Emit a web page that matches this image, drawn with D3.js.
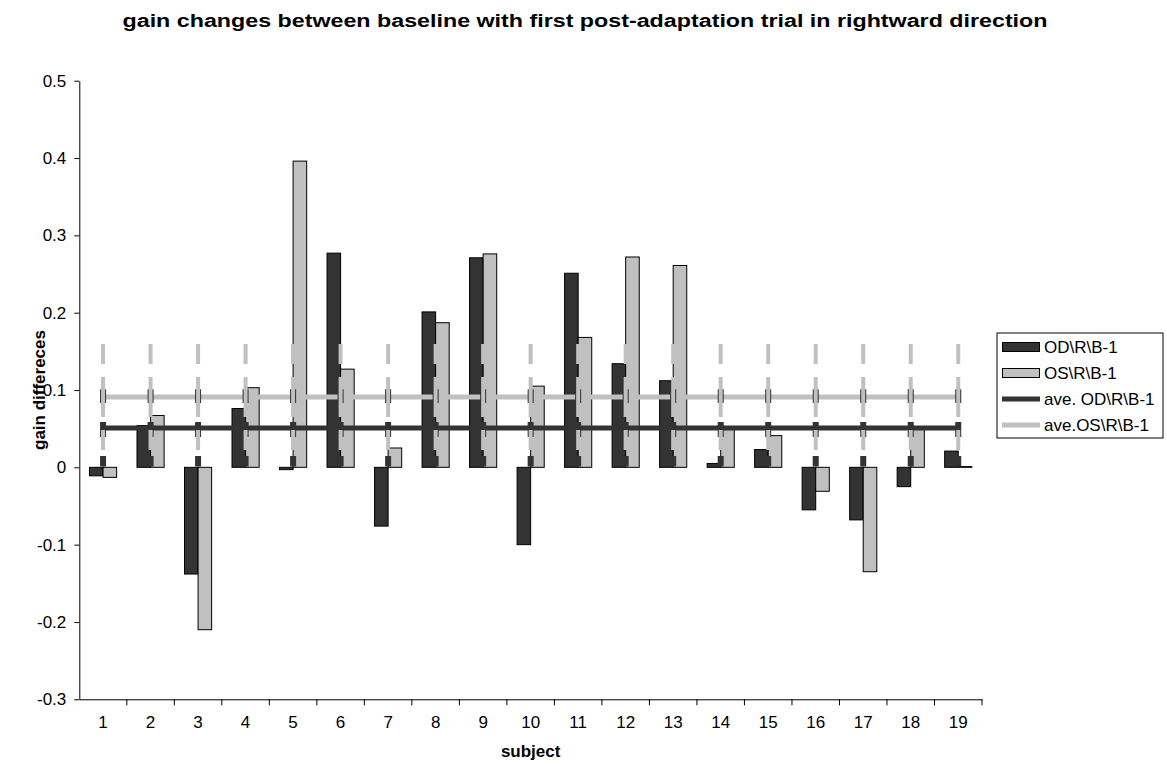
<!DOCTYPE html>
<html>
<head>
<meta charset="utf-8">
<script src="https://cdn.jsdelivr.net/npm/d3@7"></script>
<style>
  html, body { margin: 0; padding: 0; background: #fff; }
  svg { display: block; font-family: Arial, "Liberation Sans", sans-serif; }
</style>
</head>
<body>
<svg id="chart" width="1167" height="765"></svg>
<script>
// ---- data ----
const categories = ["1","2","3","4","5","6","7","8","9","10","11","12","13","14","15","16","17","18","19"];
const seriesNames = ["OD\\R\\B-1", "OS\\R\\B-1"];
const aveNames = ["ave. OD\\R\\B-1", "ave.OS\\R\\B-1"];
const odValues = [-0.011, 0.054, -0.138, 0.076, -0.003, 0.277, -0.076, 0.201, 0.271, -0.100, 0.251, 0.134, 0.112, 0.005, 0.023, -0.055, -0.068, -0.025, 0.021];
const osValues = [-0.013, 0.067, -0.210, 0.103, 0.396, 0.127, 0.025, 0.187, 0.276, 0.105, 0.168, 0.272, 0.261, 0.050, 0.041, -0.031, -0.135, 0.050, 0.001];
const aveOD = [0.051, 0.051, 0.051, 0.051, 0.051, 0.051, 0.051, 0.051, 0.051, 0.051, 0.051, 0.051, 0.051, 0.051, 0.051, 0.051, 0.051, 0.051, 0.051];
const aveOS = [0.091, 0.091, 0.091, 0.091, 0.091, 0.091, 0.091, 0.091, 0.091, 0.091, 0.091, 0.091, 0.091, 0.091, 0.091, 0.091, 0.091, 0.091, 0.091];
const errOD = [0.050, 0.050, 0.050, 0.050, 0.050, 0.050, 0.050, 0.050, 0.050, 0.050, 0.050, 0.050, 0.050, 0.050, 0.050, 0.050, 0.050, 0.050, 0.050];
const errOS = [0.069, 0.069, 0.069, 0.069, 0.069, 0.069, 0.069, 0.069, 0.069, 0.069, 0.069, 0.069, 0.069, 0.069, 0.069, 0.069, 0.069, 0.069, 0.069];
const yTicks = [-0.3, -0.2, -0.1, 0, 0.1, 0.2, 0.3, 0.4, 0.5];
const yTickLabels = ["-0.3", "-0.2", "-0.1", "0", "0.1", "0.2", "0.3", "0.4", "0.5"];
const titleText = "gain changes between baseline with first post-adaptation trial in rightward direction";
const xTitle = "subject";
const yTitle = "gain differeces";

// ---- layout ----
const DARK = "#333333", LIGHT = "#c0c0c0";
const plot = { left: 79.3, right: 982, top: 80.7, bottom: 699.3 };
const svg = d3.select("#chart");

const x = d3.scaleBand().domain(categories).range([plot.left, plot.right]).padding(0);
const barW = x.bandwidth() / 3.5;
const xs = d3.scaleBand().domain([0, 1])
  .range([(x.bandwidth() - 2 * barW) / 2, (x.bandwidth() + 2 * barW) / 2]).padding(0);
const y = d3.scaleLinear().domain([-0.3, 0.5]).range([plot.bottom, plot.top]);

// title
svg.append("text")
  .attr("x", 585).attr("y", 27)
  .attr("text-anchor", "middle")
  .attr("font-size", 18).attr("font-weight", "bold")
  .attr("textLength", 925).attr("lengthAdjust", "spacingAndGlyphs")
  .text(titleText);

// bars
const barData = [];
categories.forEach((c, i) => {
  barData.push({ c, s: 0, v: odValues[i] });
  barData.push({ c, s: 1, v: osValues[i] });
});
svg.append("g").selectAll("rect").data(barData).join("rect")
  .attr("x", d => x(d.c) + xs(d.s))
  .attr("width", xs.bandwidth())
  .attr("y", d => Math.min(y(d.v), y(0)))
  .attr("height", d => Math.abs(y(d.v) - y(0)))
  .attr("fill", d => d.s === 0 ? DARK : LIGHT)
  .attr("stroke", "#000").attr("stroke-width", 1);

// average lines
const cx = c => x(c) + x.bandwidth() / 2;
const line = d3.line().x(d => cx(d.c)).y(d => y(d.v));
svg.append("path")
  .datum(categories.map((c, i) => ({ c, v: aveOD[i] })))
  .attr("d", line).attr("fill", "none").attr("stroke", DARK).attr("stroke-width", 5);
svg.append("path")
  .datum(categories.map((c, i) => ({ c, v: aveOS[i] })))
  .attr("d", line).attr("fill", "none").attr("stroke", LIGHT).attr("stroke-width", 5);

// error bars (dark)
const eg = svg.append("g");
categories.forEach((c, i) => {
  const xc = cx(c);
  eg.append("line")
    .attr("x1", xc).attr("x2", xc)
    .attr("y1", y(aveOD[i] + errOD[i])).attr("y2", y(aveOD[i] - errOD[i]))
    .attr("stroke", DARK).attr("stroke-width", 6)
    .attr("stroke-dasharray", "15,19").attr("stroke-dashoffset", 1.2);
});
// error bars (light), drawn from the mean outward
categories.forEach((c, i) => {
  const xc = cx(c);
  [1, -1].forEach(dir => {
    eg.append("line")
      .attr("x1", xc).attr("x2", xc)
      .attr("y1", y(aveOS[i])).attr("y2", y(aveOS[i] + dir * errOS[i]))
      .attr("stroke", LIGHT).attr("stroke-width", 4)
      .attr("stroke-dasharray", "20,13");
  });
});

// y axis
const yAxis = d3.axisLeft(y).tickValues(yTicks)
  .tickFormat((d, i) => yTickLabels[i])
  .tickSize(5).tickSizeOuter(0).tickPadding(8);
const gy = svg.append("g").attr("transform", `translate(${plot.left},0)`).call(yAxis);
gy.selectAll("text").attr("font-size", 17).attr("fill", "#000").attr("font-family", "Arial, 'Liberation Sans', sans-serif");
gy.select(".domain").attr("stroke", "#000");
gy.selectAll(".tick line").attr("stroke", "#000");

// x axis (labels centered in categories, ticks at category boundaries)
const xAxis = d3.axisBottom(x).tickSize(0).tickSizeOuter(0).tickPadding(17);
const gx = svg.append("g").attr("transform", `translate(0,${plot.bottom})`).call(xAxis);
gx.selectAll("text").attr("font-size", 17).attr("fill", "#000").attr("font-family", "Arial, 'Liberation Sans', sans-serif");
gx.select(".domain").attr("stroke", "#000");
const boundaries = categories.map(c => x(c) + x.bandwidth());
gx.selectAll(".bound").data(boundaries).join("line")
  .attr("class", "bound")
  .attr("x1", d => d).attr("x2", d => d)
  .attr("y1", 0).attr("y2", 6)
  .attr("stroke", "#000");

// axis titles
svg.append("text")
  .attr("x", (plot.left + plot.right) / 2).attr("y", 757)
  .attr("text-anchor", "middle").attr("font-size", 17).attr("font-weight", "bold")
  .text(xTitle);
svg.append("text")
  .attr("transform", `translate(45,${(plot.top + plot.bottom) / 2}) rotate(-90)`)
  .attr("text-anchor", "middle").attr("font-size", 17).attr("font-weight", "bold")
  .text(yTitle);

// legend
const lg = svg.append("g");
lg.append("rect").attr("x", 997).attr("y", 333).attr("width", 166).attr("height", 105)
  .attr("fill", "#fff").attr("stroke", "#000").attr("stroke-width", 1);
const legendItems = [
  { name: seriesNames[0], type: "rect", color: DARK },
  { name: seriesNames[1], type: "rect", color: LIGHT },
  { name: aveNames[0], type: "line", color: DARK },
  { name: aveNames[1], type: "line", color: LIGHT }
];
legendItems.forEach((it, i) => {
  const cy = 347 + i * 26;
  if (it.type === "rect") {
    lg.append("rect").attr("x", 1002.5).attr("y", cy - 4.5).attr("width", 37).attr("height", 9)
      .attr("fill", it.color).attr("stroke", "#000").attr("stroke-width", 1);
  } else {
    lg.append("line").attr("x1", 1002).attr("x2", 1040).attr("y1", cy).attr("y2", cy)
      .attr("stroke", it.color).attr("stroke-width", 5);
  }
  lg.append("text").attr("x", 1044).attr("y", cy + 6).attr("font-size", 17).text(it.name);
});
</script>
</body>
</html>
